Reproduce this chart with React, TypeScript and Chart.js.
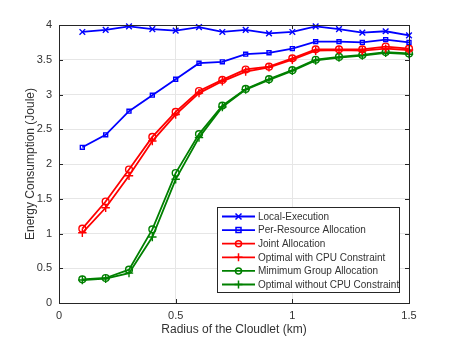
import React, { useEffect, useRef } from "react";
import { Chart, registerables } from "chart.js";
Chart.register(...registerables);

const radius = [0.1, 0.2, 0.3, 0.4, 0.5, 0.6, 0.7, 0.8, 0.9, 1.0, 1.1, 1.2, 1.3, 1.4, 1.5];
const localExecution = [3.9, 3.93, 3.98, 3.94, 3.92, 3.97, 3.9, 3.93, 3.88, 3.9, 3.98, 3.94, 3.89, 3.91, 3.85];
const perResource = [2.24, 2.42, 2.76, 2.99, 3.22, 3.45, 3.47, 3.58, 3.6, 3.66, 3.76, 3.76, 3.75, 3.79, 3.75];
const jointAllocation = [1.07, 1.46, 1.92, 2.39, 2.75, 3.05, 3.21, 3.36, 3.4, 3.52, 3.65, 3.65, 3.65, 3.69, 3.66];
const optimalWithCpu = [1.01, 1.37, 1.83, 2.33, 2.71, 3.02, 3.19, 3.33, 3.39, 3.5, 3.63, 3.64, 3.63, 3.66, 3.64];
const minGroup = [0.34, 0.36, 0.48, 1.06, 1.87, 2.43, 2.84, 3.08, 3.22, 3.35, 3.5, 3.54, 3.57, 3.61, 3.59];
const optimalWithoutCpu = [0.33, 0.35, 0.43, 0.95, 1.78, 2.38, 2.82, 3.07, 3.21, 3.34, 3.49, 3.53, 3.56, 3.6, 3.58];

const xTicks = [0, 0.5, 1, 1.5];
const yTicks = [0, 0.5, 1, 1.5, 2, 2.5, 3, 3.5, 4];

const BLUE = "#0000ff";
const RED = "#ff0000";
const GREEN = "#008000";
const AXIS = "#262626";
const FONT = "'Liberation Sans', Arial, sans-serif";

type Series = { label: string; data: number[]; color: string; marker: string; size: number };
const series: Series[] = [
  { label: "Local-Execution", data: localExecution, color: BLUE, marker: "crossRot", size: 4 },
  { label: "Per-Resource Allocation", data: perResource, color: BLUE, marker: "rect", size: 2.8 },
  { label: "Joint Allocation", data: jointAllocation, color: RED, marker: "circle", size: 3.4 },
  { label: "Optimal with CPU Constraint", data: optimalWithCpu, color: RED, marker: "cross", size: 4.2 },
  { label: "Mimimum Group Allocation", data: minGroup, color: GREEN, marker: "circle", size: 3.4 },
  { label: "Optimal without CPU Constraint", data: optimalWithoutCpu, color: GREEN, marker: "cross", size: 4.2 },
];

function drawMarker(ctx: CanvasRenderingContext2D, marker: string, x: number, y: number, r: number) {
  ctx.beginPath();
  if (marker === "circle") {
    ctx.arc(x, y, r, 0, Math.PI * 2);
  } else if (marker === "rect") {
    ctx.rect(x - r, y - r, 2 * r, 2 * r);
  } else if (marker === "cross") {
    ctx.moveTo(x - r, y); ctx.lineTo(x + r, y);
    ctx.moveTo(x, y - r); ctx.lineTo(x, y + r);
  } else if (marker === "crossRot") {
    const d = r * 0.75;
    ctx.moveTo(x - d, y - d); ctx.lineTo(x + d, y + d);
    ctx.moveTo(x + d, y - d); ctx.lineTo(x - d, y + d);
  }
  ctx.stroke();
}

const framePlugin = {
  id: "frame",
  afterDraw(chart: any) {
    const { ctx, chartArea: a, scales } = chart;
    ctx.save();
    ctx.strokeStyle = AXIS;
    ctx.lineWidth = 1;
    // inward ticks
    ctx.beginPath();
    for (const t of xTicks) {
      const px = Math.round(scales.x.getPixelForValue(t)) + 0.5;
      ctx.moveTo(px, a.bottom); ctx.lineTo(px, a.bottom - 4);
      ctx.moveTo(px, a.top); ctx.lineTo(px, a.top + 4);
    }
    for (const t of yTicks) {
      const py = Math.round(scales.y.getPixelForValue(t)) + 0.5;
      ctx.moveTo(a.left, py); ctx.lineTo(a.left + 4, py);
      ctx.moveTo(a.right, py); ctx.lineTo(a.right - 4, py);
    }
    ctx.stroke();
    ctx.strokeRect(Math.round(a.left) + 0.5, Math.round(a.top) + 0.5, Math.round(a.right - a.left), Math.round(a.bottom - a.top));

    // legend
    const lx = 217, ly = 207, lw = 182, lh = 85;
    ctx.fillStyle = "#ffffff";
    ctx.fillRect(lx, ly, lw, lh);
    ctx.strokeStyle = AXIS;
    ctx.strokeRect(lx + 0.5, ly + 0.5, lw, lh);
    ctx.font = `10px ${FONT}`;
    ctx.textBaseline = "middle";
    ctx.textAlign = "left";
    series.forEach((s, i) => {
      const y = ly + 9.5 + i * 13.6;
      ctx.strokeStyle = s.color;
      ctx.lineWidth = 1.8;
      ctx.beginPath();
      ctx.moveTo(lx + 5, y); ctx.lineTo(lx + 38, y);
      ctx.stroke();
      ctx.lineWidth = 1.5;
      drawMarker(ctx, s.marker, lx + 21.5, y, s.marker === "circle" ? 3 : s.marker === "rect" ? 2.5 : 4);
      ctx.fillStyle = "#333333";
      ctx.fillText(s.label, lx + 41, y + 0.5);
    });
    ctx.restore();
  },
};

export default function App() {
  const ref = useRef<HTMLCanvasElement>(null);
  useEffect(() => {
    const chart = new Chart(ref.current!, {
      type: "line",
      data: {
        datasets: series.map((s) => ({
          label: s.label,
          data: radius.map((x, i) => ({ x, y: s.data[i] })),
          borderColor: s.color,
          backgroundColor: "transparent",
          borderWidth: 1.8,
          pointStyle: s.marker as any,
          pointRadius: s.size,
          pointBorderWidth: 1.4,
          pointBorderColor: s.color,
          pointBackgroundColor: "transparent",
          tension: 0,
          clip: false as any,
        })),
      },
      options: {
        responsive: false,
        animation: false,
        layout: { padding: { top: 25, right: 43, left: 0, bottom: 0 } },
        plugins: { legend: { display: false }, tooltip: { enabled: false } },
        scales: {
          x: {
            type: "linear",
            min: 0,
            max: 1.5,
            afterBuildTicks: (s: any) => { s.ticks = xTicks.map((v) => ({ value: v })); },
            afterFit: (s: any) => { s.height = 38; },
            grid: { color: "#e6e6e6", drawTicks: false, lineWidth: 1 },
            border: { display: false },
            ticks: { color: "#333333", font: { family: FONT, size: 11 }, padding: 6, maxRotation: 0, callback: (v: any) => String(v) },
            title: { display: true, text: "Radius of the Cloudlet (km)", color: "#333333", font: { family: FONT, size: 12 }, padding: { top: 0, bottom: 4 } },
          },
          y: {
            type: "linear",
            min: 0,
            max: 4,
            afterBuildTicks: (s: any) => { s.ticks = yTicks.map((v) => ({ value: v })); },
            afterFit: (s: any) => { s.width = 59; },
            grid: { color: "#e6e6e6", drawTicks: false, lineWidth: 1 },
            border: { display: false },
            ticks: { color: "#333333", font: { family: FONT, size: 11 }, padding: 7, callback: (v: any) => String(v) },
            title: { display: true, text: "Energy Consumption (Joule)", color: "#333333", font: { family: FONT, size: 12 }, padding: { top: 23, bottom: 0 } },
          },
        },
      },
      plugins: [framePlugin],
    });
    return () => chart.destroy();
  }, []);
  return (
    <div style={{ position: "fixed", left: 0, top: 0, width: 452, height: 341, background: "#fff" }}>
      <canvas ref={ref} width={452} height={341} style={{ width: 452, height: 341 }} />
    </div>
  );
}
